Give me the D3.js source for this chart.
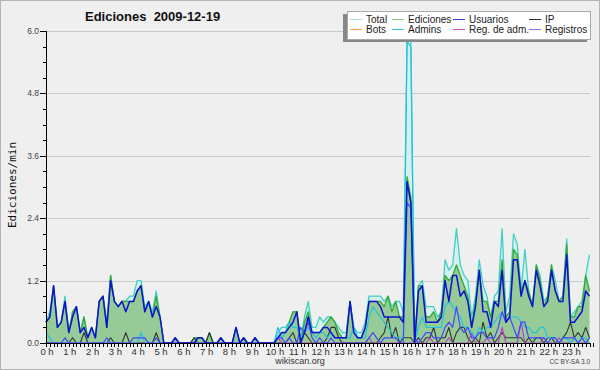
<!DOCTYPE html>
<html><head><meta charset="utf-8">
<script src="https://cdn.jsdelivr.net/npm/d3@7"></script>
<style>
body{margin:0;background:#efeff0}
svg{display:block}
text{font-family:"Liberation Sans",Arial,sans-serif}
</style>
</head><body>
<svg id="chart" width="600" height="370"></svg>
<script>
// ---------- DATA (edits per minute, 10-minute steps) ----------
const hourLabels = ["0 h","1 h","2 h","3 h","4 h","5 h","6 h","7 h","8 h","9 h","10 h","11 h",
  "12 h","13 h","14 h","15 h","16 h","17 h","18 h","19 h","20 h","21 h","22 h","23 h"];
const yTicks = [0, 1.2, 2.4, 3.6, 4.8, 6.0];

const total = [
0.4,0.6,1.1,0.3,0.4,0.9, 0.2,0.6,0.7,0.2,0.5,0.1, 0.3,0.1,0.8,0.9,0.4,1.3, 0.8,0.7,0.8,0.8,0.9,0.9,
1.2,1.2,0.7,0.8,0.6,1.0, 0.5,0,0,0,0.1,0, 0,0,0,0.1,0.1,0.1, 0,0.2,0,0,0.1,0,
0,0,0.3,0,0.1,0, 0,0.1,0,0,0,0, 0,0.2,0.3,0.3,0.4,0.6, 0.6,0.1,0.5,0.8,0.3,0.3,
0.5,0.4,0.5,0.5,0.4,0.3, 0.2,0.2,0.8,0.3,0.2,0.2, 0.4,0.9,0.9,0.9,0.9,0.8, 0.9,0.7,0.8,0.8,0.6,5.9,
5.8,0.1,1.1,1.2,0.7,0.7, 0.7,0.5,0.6,1.6,1.4,1.5, 2.2,1.5,1.3,1.2,0.5,0.9, 1.6,1.1,0.9,0.5,0.9,1.0,
2.2,0.6,0.9,2.1,1.9,1.0, 1.8,1.0,0.7,1.5,1.3,0.8, 0.9,1.5,1.2,0.8,0.9,2.0, 0.5,0.6,0.7,0.8,1.3,1.7];

const ediciones = [
0.4,0.5,1.1,0.3,0.4,0.8, 0.2,0.6,0.7,0.2,0.5,0.1, 0.3,0.1,0.8,0.9,0.3,1.3, 0.8,0.7,0.8,0.8,0.8,0.8,
1.0,1.1,0.6,0.8,0.5,0.9, 0.5,0,0,0,0.1,0, 0,0,0,0.1,0.1,0.1, 0,0.2,0,0,0.1,0,
0,0,0.3,0,0.1,0, 0,0.1,0,0,0,0, 0,0.1,0.2,0.2,0.4,0.6, 0.6,0,0.4,0.6,0.2,0.2,
0.2,0.3,0.4,0.5,0.4,0.2, 0.1,0.1,0.8,0.2,0.1,0.1, 0.3,0.8,0.8,0.8,0.8,0.7, 0.9,0.6,0.8,0.5,0.5,3.2,
2.8,0,1.1,1.1,0.5,0.5, 0.6,0.4,0.6,1.3,1.2,1.3, 1.5,1.3,1.1,0.9,0.3,0.8, 1.4,0.8,0.8,0.5,0.8,0.8,
1.6,0.5,0.6,1.8,1.7,1.0, 1.2,1.0,0.7,1.5,1.2,0.7, 0.9,1.5,1.0,0.8,0.9,1.9, 0.5,0.5,0.7,0.7,1.3,1.0];

const usuarios = [
0.4,0.5,1.1,0.3,0.4,0.8, 0.2,0.5,0.7,0.2,0.3,0.1, 0.3,0.1,0.8,0.9,0.3,1.2, 0.8,0.7,0.8,0.6,0.8,0.8,
1.0,1.1,0.6,0.8,0.5,0.7, 0.5,0,0,0,0.1,0, 0,0,0,0,0.1,0.1, 0,0,0,0,0.1,0,
0,0,0.3,0,0.1,0, 0,0.1,0,0,0,0, 0,0.1,0.2,0.2,0.3,0.4, 0.6,0,0.2,0.5,0.2,0.2,
0.2,0.3,0.3,0.2,0.1,0.1, 0.1,0.1,0.8,0.2,0.1,0.1, 0.3,0.8,0.8,0.8,0.7,0.5, 0.5,0.5,0.5,0.5,0.4,3.1,
2.7,0,1.0,1.1,0.4,0.4, 0.4,0.4,0.5,1.2,0.8,1.3, 1.3,0.9,1.0,0.8,0.3,0.7, 1.4,0.6,0.6,0.3,0.8,0.7,
1.4,0.4,0.5,1.6,1.6,0.9, 1.2,0.9,0.7,1.4,1.1,0.7, 0.8,1.4,1.0,0.8,0.8,1.7, 0.4,0.4,0.5,0.6,1.0,0.9];

const ip = [
0,0,0,0,0,0, 0,0.1,0,0,0.2,0, 0,0,0,0,0,0.1, 0,0,0,0.2,0,0,
0,0,0,0,0,0.2, 0,0,0,0,0,0, 0,0,0,0.1,0,0, 0,0.2,0,0,0,0,
0,0,0,0,0,0, 0,0,0,0,0,0, 0,0,0,0,0.1,0.2, 0,0,0.2,0.1,0,0,
0,0,0.1,0.3,0.3,0.1, 0,0,0,0,0,0, 0,0,0,0,0.1,0.2, 0.5,0.1,0.3,0,0.1,0.1,
0.1,0,0.1,0,0.1,0.1, 0.3,0,0.1,0.1,0.3,0, 0.2,0.3,0.3,0.1,0,0.1, 0,0.4,0.1,0.2,0,0.1,
0.2,0.1,0.1,0.1,0.1,0.1, 0,0.1,0,0.1,0.1,0, 0.1,0.1,0,0,0.1,0.2, 0.4,0.1,0.2,0.1,0.3,0.1];

const admins = [
0.2,0.1,0,0,0,0, 0,0,0,0,0,0, 0,0,0,0,0,0, 0,0,0,0,0,0,
0,0.2,0,0,0,0, 0,0,0,0,0,0, 0,0,0,0,0,0, 0,0,0,0,0,0,
0,0,0,0,0,0, 0,0,0,0,0,0, 0,0.3,0.1,0.2,0.4,0.3, 0.3,0.1,0.2,0.3,0.2,0.1,
0.2,0.2,0.1,0.2,0.1,0.1, 0.1,0.1,0.1,0.3,0.1,0.1, 0.1,0.5,0.7,0.6,0.5,0.4, 0.3,0.2,0.1,0.1,0.1,5.8,
5.7,0,0.3,0.5,0.3,0.3, 0.3,0.3,0.3,0.7,0.8,0.7, 0.6,0.5,0.3,0.3,0.2,0.1, 0.3,0.2,0.3,0.3,0.4,0.5,
0.6,0.4,0.5,0.5,0.5,0.4, 0.3,0.3,0.2,0.2,0.3,0.3, 0.1,0.1,0.1,0,0.1,0.1, 0,0.1,0,0.1,0.1,0];

const registros = [
0,0,0,0,0,0.1, 0,0,0,0,0,0, 0,0,0,0,0.1,0, 0,0,0,0,0,0.1,
0.1,0.1,0.1,0,0,0.1, 0,0,0,0,0,0, 0,0,0,0,0,0, 0,0,0,0,0,0,
0,0,0,0,0,0, 0,0,0,0,0,0, 0,0.1,0.1,0,0.1,0, 0,0.3,0.2,0.4,0.1,0,
0.1,0,0,0.1,0,0, 0,0,0,0,0,0, 0,0.1,0.2,0.1,0,0.1, 0.1,0.1,0.1,0,0,2.7,
2.6,0.1,0,0.1,0.2,0.2, 0.1,0.1,0.1,0.3,0.4,0.3, 0.7,0.3,0.2,0.3,0.1,0.1, 0.2,0.2,0.1,0.1,0.1,0.3,
0.6,0.4,0.5,0.3,0.1,0.4, 0.4,0.1,0.1,0.1,0.1,0.1, 0,0.1,0.1,0,0.1,0.1, 0.1,0.1,0,0.1,0,0.1];

const regAdm = [
0,0,0,0,0,0, 0,0,0,0,0,0, 0,0,0,0,0,0, 0,0,0,0,0,0,
0,0,0,0,0,0, 0,0,0,0,0,0, 0,0,0,0,0,0, 0,0,0,0,0,0,
0,0,0,0,0,0, 0,0,0,0,0,0, 0,0.1,0,0,0,0, 0,0,0,0,0,0,
0,0,0,0,0,0, 0,0,0,0,0,0, 0,0.1,0,0,0,0, 0,0,0,0,0,0,
0,0,0,0,0,0.1, 0,0,0,0,0.1,0, 0,0,0,0,0.2,0, 0,0,0.1,0,0,0,
0.3,0,0,0,0,0.4, 0,0,0,0,0,0.1, 0,0,0,0.1,0,0, 0,0.1,0,0,0,0];

const legendNames = ["Total","Ediciones","Usuarios","IP","Bots","Admins","Reg. de adm.","Registros"];
const legendColors = ["#a8e2dc","#88cc88","#3a3ae0","#333333","#ff9933","#3cc8dc","#cc44cc","#7474ee"];

// ---------- CHART ----------
const W = 600, H = 370;
const svg = d3.select("#chart");
const n = total.length;

const x = d3.scaleLinear().domain([0, n - 1]).range([46, 589.5]);
const y = d3.scaleLinear().domain([0, 6]).range([343, 31]);

svg.append("rect").attr("x",0.5).attr("y",0.5).attr("width",W-1).attr("height",H-1)
  .attr("fill","#efeff0").attr("stroke","#b4b4b4");

// grid
svg.append("g").selectAll("line").data(yTicks.filter(d => d > 0)).join("line")
  .attr("x1", 46).attr("x2", 590).attr("y1", d => Math.round(y(d)) + 0.5).attr("y2", d => Math.round(y(d)) + 0.5)
  .attr("stroke", "#c8c8c8").attr("stroke-width", 1);

const area = d3.area().x((d, i) => x(i)).y0(y(0)).y1(d => y(d));
const line = d3.line().x((d, i) => x(i)).y(d => y(d));

svg.append("path").datum(total).attr("d", area).attr("fill", "#d6f1ec");
svg.append("path").datum(ediciones).attr("d", area).attr("fill", "#96ca96");

const lines = [
  [total, "#3fd0c4", 1.3],
  [ediciones, "#34aa34", 1.3],
  [ip, "#333333", 1.1],
  [regAdm, "#cc33cc", 1.1],
  [admins, "#22c4dc", 1.2],
  [registros, "#4646ff", 1.2],
  [usuarios, "#1010d0", 1.5]
];
lines.forEach(([data, color, w]) => {
  svg.append("path").datum(data).attr("d", line)
    .attr("fill", "none").attr("stroke", color).attr("stroke-width", w)
    .attr("stroke-linejoin", "round");
});

// axes
const ax = svg.append("g");
ax.append("line").attr("x1", 46).attr("x2", 590).attr("y1", 343.5).attr("y2", 343.5).attr("stroke", "#000");
ax.append("line").attr("x1", 46.5).attr("x2", 46.5).attr("y1", 31).attr("y2", 344).attr("stroke", "#000");
ax.selectAll(".xt").data(d3.range(n + 1)).join("line").attr("class", "xt")
  .attr("x1", i => Math.round(x(i)) + 0.5).attr("x2", i => Math.round(x(i)) + 0.5)
  .attr("y1", 343).attr("y2", 347).attr("stroke", "#000");
ax.selectAll(".xl").data(hourLabels).join("text").attr("class", "xl")
  .attr("x", (d, i) => x(i * 6) + 1).attr("y", 355).attr("text-anchor", "middle")
  .attr("font-size", "9.5px").attr("fill", "#333").style("white-space", "pre").text(d => d);

const minor = d3.range(0, 6.01, 0.3);
ax.selectAll(".ymt").data(minor).join("line").attr("class", "ymt")
  .attr("x1", 43).attr("x2", 46).attr("y1", d => Math.round(y(d)) + 0.5).attr("y2", d => Math.round(y(d)) + 0.5)
  .attr("stroke", "#000");
ax.selectAll(".yt").data(yTicks).join("line").attr("class", "yt")
  .attr("x1", 40).attr("x2", 46).attr("y1", d => Math.round(y(d)) + 0.5).attr("y2", d => Math.round(y(d)) + 0.5)
  .attr("stroke", "#000");
ax.selectAll(".yl").data(yTicks).join("text").attr("class", "yl")
  .attr("x", 39).attr("y", d => y(d) + 3).attr("text-anchor", "end")
  .attr("font-size", "8.5px").attr("fill", "#444").text(d => d3.format(".1f")(d));

// titles
svg.append("text").attr("x", 85).attr("y", 21).attr("font-size", "13px").attr("font-weight", "bold")
  .attr("fill", "#111").style("white-space", "pre").text("Ediciones  2009-12-19");
svg.append("text").attr("transform", "translate(16,185) rotate(-90)").attr("text-anchor", "middle")
  .attr("font-size", "11px").style("font-family", "'DejaVu Sans Mono', monospace").attr("fill", "#111")
  .text("Ediciones/min");
svg.append("text").attr("x", 300).attr("y", 364).attr("text-anchor", "middle")
  .attr("font-size", "9px").attr("fill", "#333").text("wikiscan.org");
svg.append("text").attr("x", 590).attr("y", 364).attr("text-anchor", "end")
  .attr("font-size", "6.5px").attr("fill", "#444").text("CC BY-SA 3.0");

// legend
const lg = svg.append("g");
lg.append("rect").attr("x", 343).attr("y", 14).attr("width", 244).attr("height", 28).attr("fill", "#888");
lg.append("rect").attr("x", 347.5).attr("y", 11.5).attr("width", 243).attr("height", 28)
  .attr("fill", "#fff").attr("stroke", "#aaa");
const colX = [350, 392, 453, 529];
const rowY = [19.5, 29.5];
legendNames.forEach((name, k) => {
  const cx = colX[k % 4], cy = rowY[Math.floor(k / 4)];
  lg.append("line").attr("x1", cx).attr("x2", cx + 12).attr("y1", cy).attr("y2", cy)
    .attr("stroke", legendColors[k]).attr("stroke-width", 1);
  lg.append("text").attr("x", cx + 16).attr("y", cy + 3.5).attr("font-size", "10px")
    .attr("fill", "#222").text(name);
});
</script>
</body></html>
